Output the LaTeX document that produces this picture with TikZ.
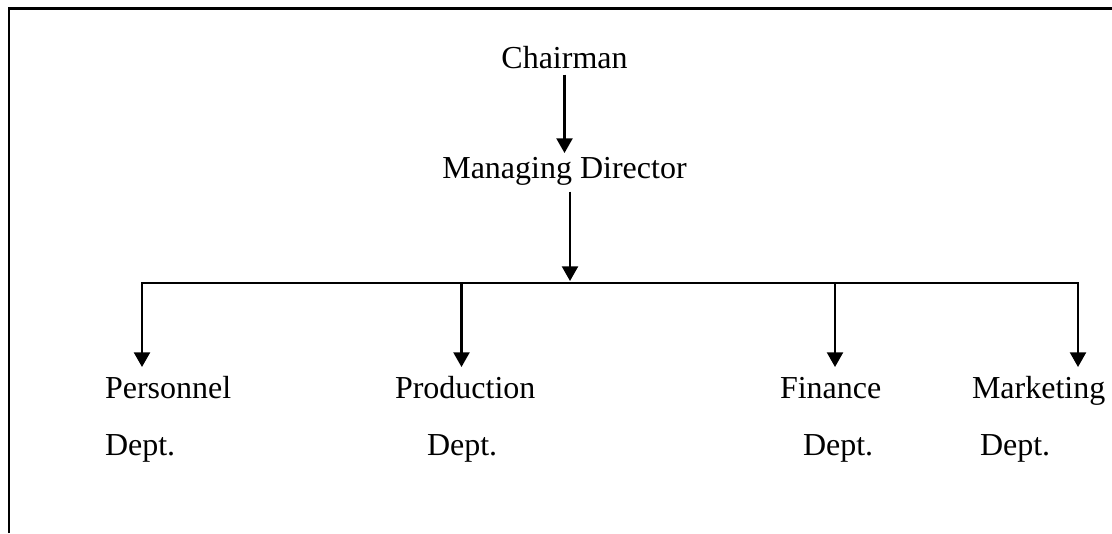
\documentclass[tikz,border=0pt]{standalone}
\usepackage{fontspec}
\setmainfont{Liberation Serif}
\usetikzlibrary{arrows.meta}

\tikzset{
  lbl/.style={inner sep=0pt, outer sep=0pt, font=\fontsize{24}{28}\selectfont,
              text height=16.5pt, text depth=5pt},
  link/.style={line width=1.7pt, line join=miter, black},
  head/.tip={Triangle[width=12pt,length=11pt]},
  tip/.style={-head},
  frame/.style={line width=1.9pt, black, line join=miter},
}

\begin{document}
\begin{tikzpicture}[x=0.75pt, y=-0.75pt]
  \useasboundingbox (0,0) rectangle (1112,533);

  % open page frame (top and left edges)
  \draw[frame] (9,533) -- (9,8.5) -- (1112,8.5);

  % top of the chart
  \node[lbl, anchor=base] (chair) at (564.5,68) {Chairman};
  \node[lbl, anchor=base] (md) at (564.5,178) {Managing Director};

  % departments
  \node[lbl, anchor=base west] (pers)  at (105,398) {Personnel};
  \node[lbl, anchor=base west] (persd) at (105,455) {Dept.};
  \node[lbl, anchor=base west] (prod)  at (395,398) {Production};
  \node[lbl, anchor=base west] (prodd) at (427,455) {Dept.};
  \node[lbl, anchor=base west] (fin)   at (780,398) {Finance};
  \node[lbl, anchor=base west] (find)  at (803,455) {Dept.};
  \node[lbl, anchor=base west] (mkt)   at (972,398) {Marketing};
  \node[lbl, anchor=base west] (mktd)  at (980,455) {Dept.};

  % distribution bar
  \coordinate (bl)  at (142,283);
  \coordinate (bp)  at (461.5,283);
  \coordinate (hub) at (570,283);
  \coordinate (bf)  at (835,283);
  \coordinate (br)  at (1078,283);

  % connectors
  \draw[link, tip, shorten >=2.25pt] (chair.south) -- (md.north);
  \draw[link, tip, shorten <=5.25pt, shorten >=1.5pt] (md.south -| hub) -- (hub);
  \draw[link, head-head, shorten <=6.75pt, shorten >=6.75pt]
        (bl |- pers.north) -- (bl) -- (br) -- (br |- mkt.north);
  \draw[link, tip, shorten >=6.75pt] (bp) -- (bp |- prod.north);
  \draw[link, tip, shorten >=6.75pt] (bf) -- (bf |- fin.north);
\end{tikzpicture}
\end{document}
